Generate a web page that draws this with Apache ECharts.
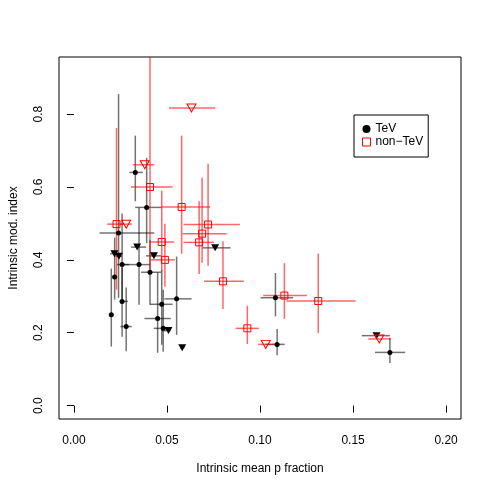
<!DOCTYPE html>
<html>
<head>
<meta charset="utf-8">
<style>
  html, body { margin: 0; padding: 0; background: #fff; }
  #container { width: 491px; height: 491px; }
</style>
<script src="https://cdn.jsdelivr.net/npm/echarts@6/dist/echarts.min.js"></script>
</head>
<body>
<div id="container"></div>
<script>
// [x, y, xlo, xhi, ylo, yhi]
const tevPoints = [
  [0.0330, 0.640, 0.0298, 0.0370, 0.561, 0.741],
  [0.0391, 0.544, 0.0329, 0.0468, 0.446, 0.680],
  [0.0240, 0.474, 0.0138, 0.0432, 0.296, 0.855],
  [0.0259, 0.387, 0.0231, 0.0297, 0.291, 0.527],
  [0.0350, 0.387, 0.0259, 0.0409, 0.277, 0.543],
  [0.0219, 0.353, 0.0206, 0.0234, 0.291, 0.461],
  [0.0259, 0.286, 0.0245, 0.0290, 0.189, 0.379],
  [0.0201, 0.249, 0.0188, 0.0213, 0.162, 0.376],
  [0.0281, 0.217, 0.0250, 0.0311, 0.149, 0.324],
  [0.0409, 0.366, 0.0361, 0.0468, 0.277, 0.455],
  [0.0472, 0.278, 0.0409, 0.0530, 0.167, 0.372],
  [0.0552, 0.293, 0.0486, 0.0632, 0.194, 0.409],
  [0.0450, 0.239, 0.0379, 0.0521, 0.145, 0.365],
  [0.0480, 0.212, 0.0429, 0.0504, 0.148, 0.318],
  [0.1083, 0.296, 0.1003, 0.1178, 0.245, 0.364],
  [0.1092, 0.168, 0.1029, 0.1133, 0.138, 0.210],
  [0.1698, 0.146, 0.1618, 0.1780, 0.117, 0.186]
];
// upper limits: [x, y, xlo, xhi]
const tevLimits = [
  [0.0218, 0.417, 0.0195, 0.0245],
  [0.0242, 0.410, 0.0224, 0.0259],
  [0.0340, 0.435, 0.0307, 0.0388],
  [0.0430, 0.411, 0.0388, 0.0468],
  [0.0508, 0.206, 0.0473, 0.0521],
  [0.0582, 0.159, 0.0570, 0.0594],
  [0.0759, 0.433, 0.0691, 0.0842],
  [0.1626, 0.192, 0.1547, 0.1698]
];
const nonTevPoints = [
  [0.0409, 0.600, 0.0307, 0.0530, 0.373, 1.000],
  [0.0579, 0.545, 0.0468, 0.0732, 0.417, 0.741],
  [0.0721, 0.497, 0.0589, 0.0892, 0.384, 0.664],
  [0.0689, 0.472, 0.0584, 0.0821, 0.392, 0.626],
  [0.0673, 0.448, 0.0589, 0.0753, 0.361, 0.561],
  [0.0801, 0.341, 0.0699, 0.0913, 0.265, 0.451],
  [0.1131, 0.302, 0.1017, 0.1252, 0.238, 0.391],
  [0.1313, 0.287, 0.1142, 0.1514, 0.199, 0.417],
  [0.0932, 0.212, 0.0869, 0.0994, 0.169, 0.274],
  [0.0472, 0.449, 0.0409, 0.0539, 0.368, 0.590],
  [0.0489, 0.400, 0.0414, 0.0543, 0.326, 0.499],
  [0.0229, 0.498, 0.0179, 0.0263, 0.318, 0.762]
];
const nonTevLimits = [
  [0.1031, 0.168, 0.0990, 0.1078],
  [0.1641, 0.183, 0.1582, 0.1702],
  [0.0281, 0.498, 0.0245, 0.0311],
  [0.0381, 0.661, 0.0317, 0.0432],
  [0.0632, 0.817, 0.0511, 0.0760]
];
const xTicks = [0, 0.05, 0.10, 0.15, 0.20];
const yTicks = [0, 0.2, 0.4, 0.6, 0.8];

const FONT = '"Liberation Sans", Arial, Helvetica, sans-serif';
const downTri = 'path://M0,0 L10,0 L5,8.66 Z';

var dom = document.getElementById('container');
var myChart = echarts.init(dom, null, { renderer: 'canvas' });

// error bars: horizontal always, vertical only when ylo/yhi exist
function errorBars(color) {
  return function (params, api) {
    var y = api.value(1);
    var l = api.coord([api.value(2), y]);
    var r = api.coord([api.value(3), y]);
    var kids = [{
      type: 'line',
      shape: { x1: l[0], y1: l[1], x2: r[0], y2: r[1] },
      style: { stroke: color, lineWidth: 1.5 }
    }];
    var ylo = api.value(4), yhi = api.value(5);
    if (!isNaN(ylo) && !isNaN(yhi)) {
      var x = api.value(0);
      var b = api.coord([x, ylo]);
      var t = api.coord([x, yhi]);
      kids.push({
        type: 'line',
        shape: { x1: b[0], y1: b[1], x2: t[0], y2: t[1] },
        style: { stroke: color, lineWidth: 1.5 }
      });
    }
    return { type: 'group', children: kids };
  };
}

var blackBar = 'rgba(0,0,0,0.55)';
var redBar = 'rgba(255,0,0,0.6)';

var option = {
  backgroundColor: '#fff',
  animation: false,
  textStyle: { fontFamily: FONT },
  grid: {
    left: 57, right: 30, top: 57, bottom: 72,
    show: true, borderColor: '#000', borderWidth: 1
  },
  legend: {
    left: 354, top: 115,
    orient: 'vertical',
    backgroundColor: '#fff',
    borderColor: '#000', borderWidth: 1,
    padding: [8, 5, 9, 8],
    itemGap: 1,
    itemWidth: 8, itemHeight: 8,
    textStyle: { fontFamily: FONT, fontSize: 12, color: '#000' },
    data: [
      { name: 'TeV', icon: 'circle', itemStyle: { color: '#000' } },
      { name: 'non\u2212TeV', icon: 'rect',
        itemStyle: { color: 'rgba(255,255,255,0)', borderColor: '#f00', borderWidth: 1 } }
    ]
  },
  xAxis: {
    type: 'value',
    min: -0.008, max: 0.208,
    name: 'Intrinsic mean p fraction',
    nameLocation: 'middle', nameGap: 44,
    nameTextStyle: { fontFamily: FONT, fontSize: 12, color: '#000' },
    splitLine: { show: false },
    axisLine: { show: false },
    axisTick: { show: true, length: 7, customValues: xTicks, lineStyle: { color: '#000' } },
    axisLabel: {
      customValues: xTicks, margin: 16,
      fontFamily: FONT, fontSize: 12, color: '#000',
      formatter: function (v) { return v.toFixed(2); }
    }
  },
  yAxis: {
    type: 'value',
    min: -0.0368, max: 0.9568,
    name: 'Intrinsic mod. index',
    nameLocation: 'middle', nameGap: 39,
    nameTextStyle: { fontFamily: FONT, fontSize: 12, color: '#000' },
    splitLine: { show: false },
    axisLine: { show: false },
    axisTick: { show: true, length: 7, customValues: yTicks, lineStyle: { color: '#000' } },
    axisLabel: {
      customValues: yTicks, margin: 14, rotate: 90,
      fontFamily: FONT, fontSize: 12, color: '#000',
      formatter: function (v) { return v.toFixed(1); }
    }
  },
  series: [
    { type: 'custom', clip: true, renderItem: errorBars(blackBar), data: tevPoints,
      encode: { x: 0, y: 1 }, silent: true, z: 1 },
    { type: 'custom', clip: true, renderItem: errorBars(blackBar), data: tevLimits,
      encode: { x: 0, y: 1 }, silent: true, z: 1 },
    { type: 'custom', clip: true, renderItem: errorBars(redBar), data: nonTevPoints,
      encode: { x: 0, y: 1 }, silent: true, z: 2 },
    { type: 'custom', clip: true, renderItem: errorBars(redBar), data: nonTevLimits,
      encode: { x: 0, y: 1 }, silent: true, z: 2 },
    { name: 'TeV', type: 'scatter', symbol: 'circle', symbolSize: 5,
      itemStyle: { color: '#000', opacity: 1 },
      data: tevPoints.map(function (d) { return [d[0], d[1]]; }), z: 3 },
    { name: 'TeV limits', type: 'scatter', symbol: downTri, symbolSize: [8, 7],
      itemStyle: { color: '#000', opacity: 1 },
      data: tevLimits.map(function (d) { return [d[0], d[1]]; }), z: 3 },
    { name: 'non\u2212TeV', type: 'scatter', symbol: 'rect', symbolSize: 7,
      itemStyle: { color: 'rgba(255,255,255,0)', borderColor: '#f00', borderWidth: 1, opacity: 1 },
      data: nonTevPoints.map(function (d) { return [d[0], d[1]]; }), z: 4 },
    { name: 'non-TeV limits', type: 'scatter', symbol: downTri, symbolSize: [9, 8],
      itemStyle: { color: 'rgba(255,255,255,0)', borderColor: '#f00', borderWidth: 1, opacity: 1 },
      data: nonTevLimits.map(function (d) { return [d[0], d[1]]; }), z: 4 }
  ]
};

myChart.setOption(option);
window.addEventListener('resize', myChart.resize);
</script>
</body>
</html>
